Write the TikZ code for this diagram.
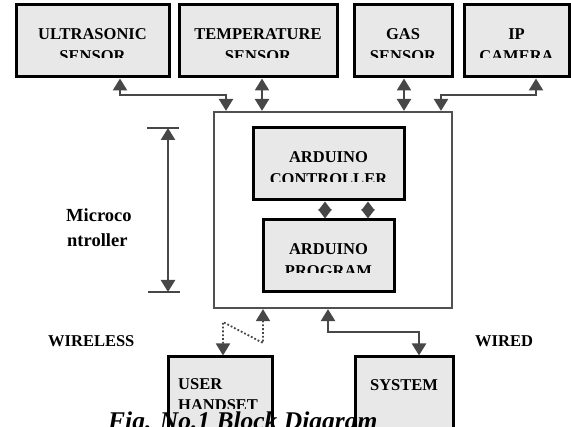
\documentclass[tikz,border=0pt]{standalone}
\usepackage{fontspec}
\setmainfont{Liberation Serif}
\usetikzlibrary{arrows.meta}
\definecolor{boxgray}{HTML}{E8E8E8}
\definecolor{lgray}{HTML}{474747}
\definecolor{mgray}{HTML}{505050}
\tikzset{
  blk/.style={draw=black, line width=3pt, fill=boxgray, inner sep=0pt, rectangle},
  mainbox/.style={draw=mgray, line width=2.2pt, fill=white, inner sep=0pt, rectangle},
  conn/.style={draw=lgray, line width=2.5pt},
  dotconn/.style={draw=lgray, line width=1.8pt, dotted},
  tri/.tip={Triangle[width=14pt,length=12pt]},
  stri/.tip={Triangle[width=13pt,length=9pt]},
  lbl/.style={font=\fontsize{16.5}{20}\selectfont\bfseries, inner sep=0pt, anchor=base},
  lbll/.style={lbl, anchor=base west},
}
\begin{document}
\begin{tikzpicture}[x=1pt,y=-1pt]
\useasboundingbox (0,0) rectangle (571,427);
\clip (0,0) rectangle (571,427);
% boxes
\node[blk, minimum width=153pt, minimum height=72pt] (us) at (92.5,41) {};
\node[blk, minimum width=158pt, minimum height=72pt] (tp) at (258,41) {};
\node[blk, minimum width=98pt, minimum height=72pt] (gs) at (403,41) {};
\node[blk, minimum width=105pt, minimum height=72pt] (ip) at (516.5,41) {};
\node[mainbox, minimum width=238pt, minimum height=196pt] (mc) at (333,210) {};
\node[blk, minimum width=151pt, minimum height=72pt] (ac) at (328.5,164) {};
\node[blk, minimum width=131pt, minimum height=72pt] (ap) at (328.5,256) {};
\node[blk, minimum width=104pt, minimum height=90pt] (uh) at (220,402) {};
\node[blk, minimum width=98pt, minimum height=90pt] (sy) at (404,402) {};
% box texts
\node[lbl] (t1a) at (92.5,40) {ULTRASONIC};
\node[lbl] (t2a) at (258,40) {TEMPERATURE};
\node[lbl] (t3a) at (403,40) {GAS};
\node[lbl] (t4a) at (516.5,40) {IP};
\begin{scope}
\clip (0,0) rectangle (571,58);
\node[lbl] (t1b) at (92.5,62) {SENSOR};
\node[lbl] (t2b) at (258,62) {SENSOR};
\node[lbl] (t3b) at (403,62) {SENSOR};
\node[lbl] (t4b) at (516.5,62) {CAMERA};
\end{scope}
\node[lbl] (aca) at (328.5,163) {ARDUINO};
\begin{scope}
\clip (200,165) rectangle (420,182);
\node[lbl] (acb) at (328.5,185) {CONTROLLER};
\end{scope}
\node[lbl] (apa) at (328.5,255) {ARDUINO};
\begin{scope}
\clip (200,258) rectangle (420,273);
\node[lbl] (apb) at (328.5,277) {PROGRAM};
\end{scope}
\node[lbll] (uha) at (178,390) {USER};
\begin{scope}
\clip (170,392) rectangle (270,409);
\node[lbll] (uhb) at (178,411) {HANDSET};
\end{scope}
\node[lbl] (sya) at (404,391) {SYSTEM};
\node[lbll] (wl) at (48,347) {WIRELESS};
\node[lbll] (wd) at (475,347) {WIRED};
\node[font=\fontsize{18.5}{22}\selectfont\bfseries, inner sep=0pt, anchor=base west] (mca) at (66,222) {Microco};
\node[font=\fontsize{18.5}{22}\selectfont\bfseries, inner sep=0pt, anchor=base west] (mcb) at (67,247) {ntroller};
% top connectors
\coordinate (b1) at (120,95);
\coordinate (b2) at (226,95);
\draw[conn, tri-tri] (b1 |- us.south) -- (b1) -- (b2) -- (b2 |- mc.north);
\coordinate (b3) at (262,95);
\draw[conn, tri-tri] (b3 |- tp.south) -- (b3 |- mc.north);
\coordinate (b4) at (404,95);
\draw[conn, tri-tri] (b4 |- gs.south) -- (b4 |- mc.north);
\coordinate (b5) at (536,95);
\coordinate (b6) at (441,95);
\draw[conn, tri-tri] (b5 |- ip.south) -- (b5) -- (b6) -- (b6 |- mc.north);
% inner connectors
\coordinate (i1) at (325,210);
\coordinate (i2) at (368,210);
\draw[conn, line width=2pt, stri-stri] (i1 |- ac.south) -- (i1 |- ap.north);
\draw[conn, line width=2pt, stri-stri] (i2 |- ac.south) -- (i2 |- ap.north);
% dimension line
\coordinate (dt) at (168,128);
\coordinate (db) at (168,292);
\coordinate (dtl) at (147,128);
\coordinate (dtr) at (179,128);
\coordinate (dbl) at (148,292);
\coordinate (dbr) at (180,292);
\draw[conn] (dtl) -- (dtr);
\draw[conn] (dbl) -- (dbr);
\draw[conn, tri-tri] (dt) -- (db);
% bottom connectors
\coordinate (w1) at (263,343);
\coordinate (w2) at (223,322);
\draw[dotconn, tri-tri] (w1 |- mc.south) -- (w1) -- (w2) -- (w2 |- uh.north);
\coordinate (s1) at (328,332);
\coordinate (s2) at (419,332);
\draw[conn, tri-tri] (s1 |- mc.south) -- (s1) -- (s2) -- (s2 |- sy.north);
% caption
\node[font=\fontsize{25.5}{28}\selectfont\bfseries\itshape, inner sep=0pt, anchor=base west] (cap) at (108,430) {Fig. No.1 Block Diagram};
\end{tikzpicture}
\end{document}
